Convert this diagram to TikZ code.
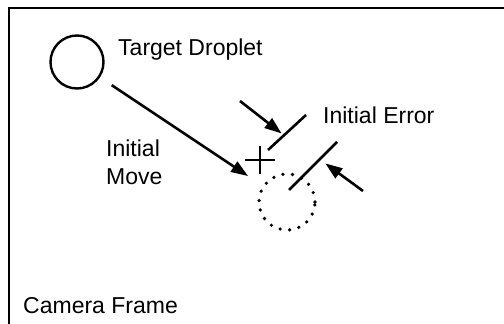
\documentclass[tikz,border=0pt]{standalone}
\usepackage{fontspec}
\setmainfont{Liberation Sans}
\usetikzlibrary{arrows.meta, positioning, calc}

\begin{document}
\begin{tikzpicture}[x=1pt, y=-1pt, >={Triangle[length=17pt, width=12pt]}]
    \tikzset{lbl/.style={font=\fontsize{23}{28}\selectfont, inner sep=0pt},
        droplet/.style={circle, draw, line width=2.4pt, minimum size=53pt, inner sep=0pt},
        ghost/.style={circle, draw, line width=3.6pt, minimum size=56pt, inner sep=0pt,
            line cap=round, dash pattern=on 0pt off 9.6pt},
        stroke/.style={line width=2.6pt}
    }
    \useasboundingbox (0,0) rectangle (504,324);

    % frame, only the top and left edges
    \draw [line width=2.6pt] (9,324) -- (9,8) -- (504,8);

    \node (Target) [droplet] at (77,62) {};
    \node (Target-Label) [lbl, anchor=base west] at (118,55) {Target Droplet};
    \node (Goal) [ghost] at (287,202) {};
    \node (Move-Label) [lbl, anchor=base west, align=left] at (106,184) {Initial\\Move};
    \node (Error-Label) [lbl, anchor=base west] at (323,123) {Initial Error};
    \node (Frame-Label) [lbl, anchor=base west] at (23,313) {Camera Frame};

    % aim point
    \coordinate (Aim) at (260,160);
    \draw [line width=2.8pt] ([xshift=-15pt]Aim) -- ([xshift=15pt]Aim);
    \draw [line width=2.8pt] ([yshift=-14pt]Aim) -- ([yshift=14pt]Aim);

    % error bars
    \coordinate (Bar1-A) at (268,150);
    \coordinate (Bar1-B) at (306,115);
    \coordinate (Bar2-A) at (289,190);
    \coordinate (Bar2-B) at (337,142);
    \draw [stroke] (Bar1-A) -- (Bar1-B);
    \draw [stroke] (Bar2-A) -- (Bar2-B);

    \coordinate (Push1) at (240,101);
    \coordinate (Push2) at (363,191);
    \draw [stroke, ->, shorten >=3pt] (Push1) -- ($(Bar1-A)!0.42!(Bar1-B)$);
    \draw [stroke, ->, shorten >=7pt] (Push2) -- ($(Bar2-A)!0.64!(Bar2-B)$);

    \draw [stroke, ->, shorten <=14pt, shorten >=17pt] (Target) -- (Goal);
\end{tikzpicture}
\end{document}
